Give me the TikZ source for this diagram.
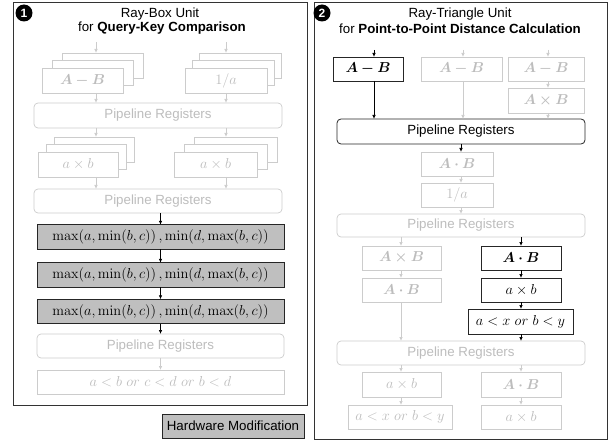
\documentclass[tikz,border=0pt]{standalone}
\usepackage[no-math]{fontspec}
\usepackage{amsmath,bm}
\usetikzlibrary{arrows.meta}
\newfontfamily\hv{Liberation Sans}
\definecolor{lg}{HTML}{CCCCCC}
\definecolor{tg}{HTML}{BDBDBD}
\definecolor{hwfill}{HTML}{BFBFBF}
\begin{document}
\begin{tikzpicture}[x=1pt,y=-1pt,
  every node/.style={inner sep=0pt, outer sep=0pt},
  gbox/.style={draw=lg, line width=0.7pt, fill=white, text=tg, font=\fontsize{13.5}{15}\selectfont},
  kbox/.style={draw=black!85, line width=0.8pt, fill=white, text=black, font=\fontsize{13.5}{15}\selectfont},
  fbox/.style={draw=black!85, line width=0.8pt, fill=hwfill, text=black, font=\fontsize{14}{16}\selectfont},
  greg/.style={draw=lg, line width=0.7pt, rounded corners=4pt, fill=white, text=tg, font=\hv\fontsize{13.3}{15}\selectfont},
  kreg/.style={draw=black!85, line width=0.8pt, rounded corners=4pt, fill=white, text=black, font=\hv\fontsize{13.3}{15}\selectfont},
  garr/.style={draw=lg, line width=0.7pt, -{Latex[length=4pt,width=3.5pt]}},
  karr/.style={draw=black, line width=0.7pt, -{Latex[length=4pt,width=3.5pt]}},
  frame/.style={draw=black!80, line width=0.9pt},
  ttl/.style={font=\hv\fontsize{13.3}{15}\selectfont},
  num/.style={circle, fill=black, minimum size=17pt, text=white, font=\hv\bfseries\fontsize{12}{13}\selectfont}
]
\useasboundingbox (0,0) rectangle (616,441);

% ---------------- Panel 1 ----------------
\node[frame, minimum width=293.5pt, minimum height=403pt] (f1) at (160.25,203.5) {};
\node[num] (c1) at (24,13) {1};
\node[ttl] (t1a) at (160,14) {Ray-Box Unit};
\node[ttl] (t1b) at (162,28.5) {for \textbf{Query-Key Comparison}};

% A-B stack
\node[gbox, minimum width=81pt, minimum height=25pt] (abC) at (102.5,65.5) {};
\node[gbox, minimum width=81pt, minimum height=25pt] (abB) at (92.5,73) {};
\node[gbox, minimum width=81pt, minimum height=25pt] (abA) at (82.5,80.5) {$\bm{A-B}$};
% 1/a stack
\node[gbox, minimum width=82pt, minimum height=25pt] (ivC) at (240,65.5) {};
\node[gbox, minimum width=82pt, minimum height=25pt] (ivB) at (233,73) {};
\node[gbox, minimum width=82pt, minimum height=25pt] (ivA) at (226,80.5) {$1/a$};

\coordinate (in1) at (96,42);
\coordinate (in2) at (226,42);
\draw[garr] (in1) -- (in1 |- abC.north);
\draw[garr] (in2) -- (in2 |- ivC.north);

\node[greg, minimum width=248pt, minimum height=25pt] (pr1) at (158,115.5) {Pipeline Registers};
\draw[garr] (abA.south -| in1) -- (pr1.north -| in1);
\draw[garr] (ivA.south -| in2) -- (pr1.north -| in2);

% a x b stacks
\node[gbox, minimum width=80pt, minimum height=25pt] (mlC) at (94,149.5) {};
\node[gbox, minimum width=80pt, minimum height=25pt] (mlB) at (86,157) {};
\node[gbox, minimum width=80pt, minimum height=25pt] (mlA) at (78,164.5) {$a\times b$};
\node[gbox, minimum width=83pt, minimum height=25pt] (mrC) at (235.5,149.5) {};
\node[gbox, minimum width=83pt, minimum height=25pt] (mrB) at (225.5,157) {};
\node[gbox, minimum width=83pt, minimum height=25pt] (mrA) at (215.5,164.5) {$a\times b$};
\draw[garr] (pr1.south -| in1) -- (mlC.north -| in1);
\draw[garr] (pr1.south -| in2) -- (mrC.north -| in2);

\node[greg, minimum width=248pt, minimum height=24pt] (pr2) at (158,201) {Pipeline Registers};
\draw[garr] (mlA.south -| in1) -- (pr2.north -| in1);
\draw[garr] (mrA.south -| in2) -- (pr2.north -| in2);

% max/min boxes
\node[fbox, minimum width=247pt, minimum height=24.5pt] (mm1) at (160.5,237) {$\max(a,\min(b,c))\,,\min(d,\max(b,c))$};
\node[fbox, minimum width=247pt, minimum height=24.5pt] (mm2) at (160.5,275) {$\max(a,\min(b,c))\,,\min(d,\max(b,c))$};
\node[fbox, minimum width=247pt, minimum height=24.5pt] (mm3) at (160.5,311.5) {$\max(a,\min(b,c))\,,\min(d,\max(b,c))$};
\draw[karr] (pr2.south -| mm1.north) -- (mm1.north);
\draw[karr] (mm1) -- (mm2);
\draw[karr] (mm2) -- (mm3);

\node[greg, minimum width=247pt, minimum height=24pt] (pr3) at (160.5,346) {Pipeline Registers};
\draw[karr] (mm3) -- (pr3);
\node[gbox, minimum width=247pt, minimum height=24pt] (cmp1) at (160.5,382) {$a<b~or~c<d~or~b<d$};
\draw[garr] (pr3) -- (cmp1);

% legend
\node[fbox, font=\hv\fontsize{13.3}{15}\selectfont, minimum width=142pt, minimum height=24pt] (hw) at (233,426) {Hardware Modification};

% ---------------- Panel 2 ----------------
\node[frame, minimum width=293pt, minimum height=437pt] (f2) at (460.5,220.5) {};
\node[num] (c2) at (322,13) {2};
\node[ttl] (t2a) at (460,14) {Ray-Triangle Unit};
\node[ttl] (t2b) at (460,28.5) {for \textbf{Point-to-Point Distance Calculation}};

\node[kbox, minimum width=70pt, minimum height=24pt] (s1) at (368,69) {$\bm{A-B}$};
\node[gbox, minimum width=81pt, minimum height=24pt] (s2) at (461.5,69) {$\bm{A-B}$};
\node[gbox, minimum width=76pt, minimum height=24pt] (s3) at (546,69) {$\bm{A-B}$};
\node[gbox, minimum width=76pt, minimum height=25pt] (s4) at (546,100.5) {$\bm{A\times B}$};
\coordinate (i1) at (374,50);
\coordinate (i2) at (463,50);
\coordinate (i3) at (548,50);
\draw[karr] (i1) -- (i1 |- s1.north);
\draw[garr] (i2) -- (i2 |- s2.north);
\draw[garr] (i3) -- (i3 |- s3.north);

\node[kreg, minimum width=248pt, minimum height=25pt] (pr4) at (461,131.5) {Pipeline Registers};
\draw[karr] (s1.south -| i1) -- (pr4.north -| i1);
\draw[garr] (s2.south -| i2) -- (pr4.north -| i2);
\draw[garr] (s3.south -| i3) -- (s4.north -| i3);
\draw[garr] (s4.south -| i3) -- (pr4.north -| i3);

\node[gbox, minimum width=72pt, minimum height=24pt] (s5) at (457,164) {$\bm{A\cdot B}$};
\node[gbox, minimum width=72pt, minimum height=24pt] (s6) at (457,195) {$1/a$};
\coordinate (cx) at (461,0);
\draw[karr] (pr4.south -| cx) -- (s5.north -| cx);
\draw[garr] (s5.south -| cx) -- (s6.north -| cx);

\node[greg, minimum width=248pt, minimum height=23pt] (pr5) at (461,225.5) {Pipeline Registers};
\draw[garr] (s6.south -| cx) -- (pr5.north -| cx);

\node[gbox, minimum width=79pt, minimum height=24pt] (s7) at (401.5,258) {$\bm{A\times B}$};
\node[gbox, minimum width=79pt, minimum height=24pt] (s8) at (401.5,290) {$\bm{A\cdot B}$};
\node[kbox, minimum width=80pt, minimum height=24pt] (s9) at (521,258) {$\bm{A\cdot B}$};
\node[kbox, minimum width=80pt, minimum height=24pt] (s10) at (521,290) {$a\times b$};
\node[kbox, minimum width=105pt, minimum height=25pt] (s11) at (520.5,321.5) {$a<x~or~b<y$};
\node[greg, minimum width=248pt, minimum height=24pt] (pr6) at (461,353) {Pipeline Registers};
\coordinate (lx) at (401,0);
\coordinate (rx) at (521,0);
\draw[garr] (pr5.south -| lx) -- (s7.north -| lx);
\draw[garr] (s7.south -| lx) -- (s8.north -| lx);
\draw[garr] (s8.south -| lx) -- (pr6.north -| lx);
\draw[karr] (pr5.south -| rx) -- (s9.north -| rx);
\draw[karr] (s9.south -| rx) -- (s10.north -| rx);
\draw[karr] (s10.south -| rx) -- (s11.north -| rx);
\draw[karr] (s11.south -| rx) -- (pr6.north -| rx);

\node[gbox, minimum width=79pt, minimum height=25pt] (s12) at (401.5,384.5) {$a\times b$};
\node[gbox, minimum width=80pt, minimum height=25pt] (s13) at (521,384.5) {$\bm{A\cdot B}$};
\node[gbox, minimum width=104pt, minimum height=24pt] (s14) at (400,417) {$a<x~or~b<y$};
\node[gbox, minimum width=80pt, minimum height=24pt] (s15) at (521,417) {$a\times b$};
\draw[garr] (pr6.south -| lx) -- (s12.north -| lx);
\draw[garr] (s12.south -| lx) -- (s14.north -| lx);
\draw[garr] (pr6.south -| rx) -- (s13.north -| rx);
\draw[garr] (s13.south -| rx) -- (s15.north -| rx);
\end{tikzpicture}
\end{document}
